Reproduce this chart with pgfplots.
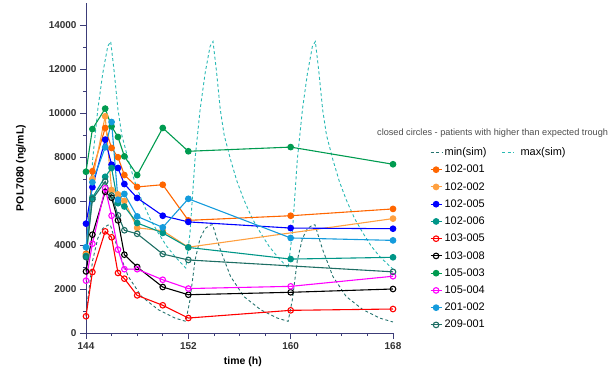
\documentclass[border=0pt]{standalone}
\usepackage{pgfplots}
\pgfplotsset{compat=1.18}
\usepackage{fontspec}
\setmainfont{Liberation Sans}
\definecolor{axiscol}{RGB}{60,60,120}
\definecolor{cA}{RGB}{255,102,0}
\definecolor{cB}{RGB}{255,160,64}
\definecolor{cC}{RGB}{0,0,255}
\definecolor{cD}{RGB}{0,150,136}
\definecolor{cE}{RGB}{255,0,0}
\definecolor{cF}{RGB}{0,0,0}
\definecolor{cG}{RGB}{0,155,80}
\definecolor{cH}{RGB}{255,0,255}
\definecolor{cI}{RGB}{20,155,220}
\definecolor{cJ}{RGB}{30,110,100}
\definecolor{cMin}{RGB}{35,115,110}
\definecolor{cMax}{RGB}{40,185,180}
\begin{document}
\begin{tikzpicture}
\begin{axis}[name=ax, scale only axis, width=307bp, height=330bp,
  xmin=144, xmax=168, ymin=0, ymax=15000,
  xtick={144,152,160,168}, minor x tick num=3,
  ytick={0,2000,...,14000}, minor y tick num=1,
  scaled y ticks=false, scaled x ticks=false,
  axis x line*=bottom, axis y line*=left,
  x axis line style={-}, y axis line style={-},
  axis line style={draw=axiscol, line width=0.9pt},
  tick style={draw=axiscol, line width=0.8pt},
  major tick length=6bp, minor tick length=3bp, tick align=outside,
  /pgf/number format/assume math mode=true,
  /pgf/number format/1000 sep={},
  ticklabel style={font=\bfseries\fontsize{10}{12}\selectfont, text=black!80},
  xlabel={time (h)}, ylabel={POL7080 (ng/mL)},
  xlabel style={font=\bfseries\fontsize{10.5}{12}\selectfont, at={(axis description cs:0.511,-0.088)}, anchor=center},
  ylabel style={font=\bfseries\fontsize{10.5}{12}\selectfont, at={(axis description cs:-0.212,0.5)}, anchor=center},
  clip=false,
  legend columns=1,
  legend style={draw=none, fill=none, at={(axis description cs:1.12,0.567)}, anchor=north west,
    font=\fontsize{11}{13}\selectfont, legend cell align=left, row sep=5.1bp, inner sep=0pt,
    nodes={inner sep=1.5bp},
    /tikz/every odd column/.append style={column sep=1bp}},
  legend image code/.code={\draw[mark repeat=2,mark phase=2] plot coordinates {(0bp,0bp) (5.5bp,0bp) (11bp,0bp)};},
  every axis plot/.append style={line width=1.1pt},
]
% legend
\addlegendimage{cMin, line width=0.9pt, dash pattern=on 3pt off 2.5pt}
\addlegendentry{min(sim)\hspace{15bp}\tikz[baseline={(0,-3.5bp)}]\draw[cMax, line width=0.9pt, dash pattern=on 3pt off 2.5pt] (0,0)--(11bp,0);\hspace{7bp}max(sim)}
\addlegendimage{cA, mark=*, mark size=2.8pt, mark options={solid,fill=cA}}\addlegendentry{102-001}
\addlegendimage{cB, mark=*, mark size=2.8pt, mark options={solid,fill=cB}}\addlegendentry{102-002}
\addlegendimage{cC, mark=*, mark size=2.8pt, mark options={solid,fill=cC}}\addlegendentry{102-005}
\addlegendimage{cD, mark=*, mark size=2.8pt, mark options={solid,fill=cD}}\addlegendentry{102-006}
\addlegendimage{cE, mark=o, mark size=2.8pt, mark options={solid}}\addlegendentry{103-005}
\addlegendimage{cF, mark=o, mark size=2.8pt, mark options={solid}}\addlegendentry{103-008}
\addlegendimage{cG, mark=*, mark size=2.8pt, mark options={solid,fill=cG}}\addlegendentry{105-003}
\addlegendimage{cH, mark=o, mark size=2.8pt, mark options={solid}}\addlegendentry{105-004}
\addlegendimage{cI, mark=*, mark size=2.8pt, mark options={solid,fill=cI}}\addlegendentry{201-002}
\addlegendimage{cJ, mark=o, mark size=2.8pt, mark options={solid}}\addlegendentry{209-001}
% simulations
\addplot[forget plot, cMin, line width=0.9pt, dash pattern=on 3pt off 2.5pt] coordinates {
(144,800) (144.13,1500) (144.52,3300) (144.92,4300) (145.31,4750) (145.7,4900) (145.9,4920)
(146.2,4350) (146.5,3790) (147.3,2570) (148.34,1660) (149.65,1060) (150.95,680) (151.8,530)
(152.13,1500) (152.52,3300) (152.92,4300) (153.31,4750) (153.7,4900) (153.9,4920)
(154.2,4350) (154.5,3790) (155.3,2570) (156.34,1660) (157.65,1060) (158.95,680) (159.8,530)
(160.13,1500) (160.52,3300) (160.92,4300) (161.31,4750) (161.7,4900) (161.9,4920)
(162.2,4350) (162.5,3790) (163.3,2570) (164.34,1660) (165.65,1060) (166.95,680) (168,500)};
\addplot[forget plot, cMax, line width=0.9pt, dash pattern=on 3pt off 2.5pt] coordinates {
(144,3900) (144.13,4540) (144.52,7880) (144.92,10150) (145.31,11800) (145.7,13030) (145.93,13250)
(146.2,11900) (146.5,10150) (146.8,9000) (147.3,7880) (147.8,6900) (148.34,6060) (149,5200) (149.65,4545) (150.3,3950) (150.95,3480) (151.8,2950)
(152.13,4540) (152.52,7880) (152.92,10150) (153.31,11800) (153.7,13030) (153.93,13250)
(154.2,11900) (154.5,10150) (154.8,9000) (155.3,7880) (155.8,6900) (156.34,6060) (157,5200) (157.65,4545) (158.3,3950) (158.95,3480) (159.8,2950)
(160.13,4540) (160.52,7880) (160.92,10150) (161.31,11800) (161.7,13030) (161.93,13250)
(162.2,11900) (162.5,10150) (162.8,9000) (163.3,7880) (163.8,6900) (164.34,6060) (165,5200) (165.65,4545) (166.3,3950) (166.95,3480) (168,2900)};
% patients
\addplot[forget plot, cA, mark=*, mark size=2.8pt, mark options={solid,fill=cA}] coordinates {
(144,3600) (144.5,7350) (145.5,9320) (146,8410) (146.5,7990) (147,7180) (148,6640) (150,6740) (152,5120) (160,5330) (168,5640)};
\addplot[forget plot, cB, mark=*, mark size=2.8pt, mark options={solid,fill=cB}] coordinates {
(144,3550) (144.5,7000) (145.5,9850) (146,6500) (146.5,6300) (147,6000) (148,4780) (150,4650) (152,3900) (168,5200)};
\addplot[forget plot, cC, mark=*, mark size=2.8pt, mark options={solid,fill=cC}] coordinates {
(144,4970) (144.5,6630) (145.5,8790) (146,7650) (146.5,7500) (147,6770) (148,6140) (150,5330) (152,5050) (160,4770) (168,4740)};
\addplot[forget plot, cD, mark=*, mark size=2.8pt, mark options={solid,fill=cD}] coordinates {
(144,3500) (144.5,6150) (145.5,7100) (146,7500) (146.5,5900) (147,5750) (148,5000) (150,4550) (152,3890) (160,3360) (168,3440)};
\addplot[forget plot, cE, mark=o, mark size=2.8pt, mark options={solid}] coordinates {
(144,760) (144.5,2770) (145.5,4620) (146,4350) (146.5,2730) (147,2470) (148,1710) (150,1260) (152,680) (160,1030) (168,1090)};
\addplot[forget plot, cF, mark=o, mark size=2.8pt, mark options={solid}] coordinates {
(144,2800) (144.5,4470) (145.5,6420) (146,6150) (146.5,5120) (147,3560) (148,3000) (150,2090) (152,1740) (160,1850) (168,2000)};
\addplot[forget plot, cG, mark=*, mark size=2.8pt, mark options={solid,fill=cG}] coordinates {
(144,7330) (144.5,9270) (145.5,10200) (146,9390) (146.5,8910) (147,8030) (148,7180) (150,9320) (152,8260) (160,8450) (168,7670)};
\addplot[forget plot, cH, mark=o, mark size=2.8pt, mark options={solid}] coordinates {
(144,2380) (144.5,4060) (145.5,6580) (146,5330) (146.5,3790) (147,2900) (148,2900) (150,2420) (152,2020) (160,2120) (168,2580)};
\addplot[forget plot, cI, mark=*, mark size=2.8pt, mark options={solid,fill=cI}] coordinates {
(144,3900) (144.5,6850) (145.5,8440) (146,9590) (146.5,6060) (147,6320) (148,5300) (150,4800) (152,6100) (160,4320) (168,4210)};
\addplot[forget plot, cJ, mark=o, mark size=2.8pt, mark options={solid}] coordinates {
(144,3450) (144.5,6080) (145.5,6890) (146,6250) (146.5,5350) (147,4670) (148,4510) (150,3590) (152,3320) (168,2780)};
\end{axis}
\node[anchor=base west, font=\fontsize{9.2}{11}\selectfont, text=black!70, inner sep=0pt] at ([xshift=291bp,yshift=197bp]ax.south west) {closed circles - patients with higher than expected trough};
\pgfresetboundingbox
\path ([xshift=-86bp,yshift=-35bp]ax.south west) rectangle ([xshift=522bp,yshift=333bp]ax.south west);
\end{tikzpicture}
\end{document}
